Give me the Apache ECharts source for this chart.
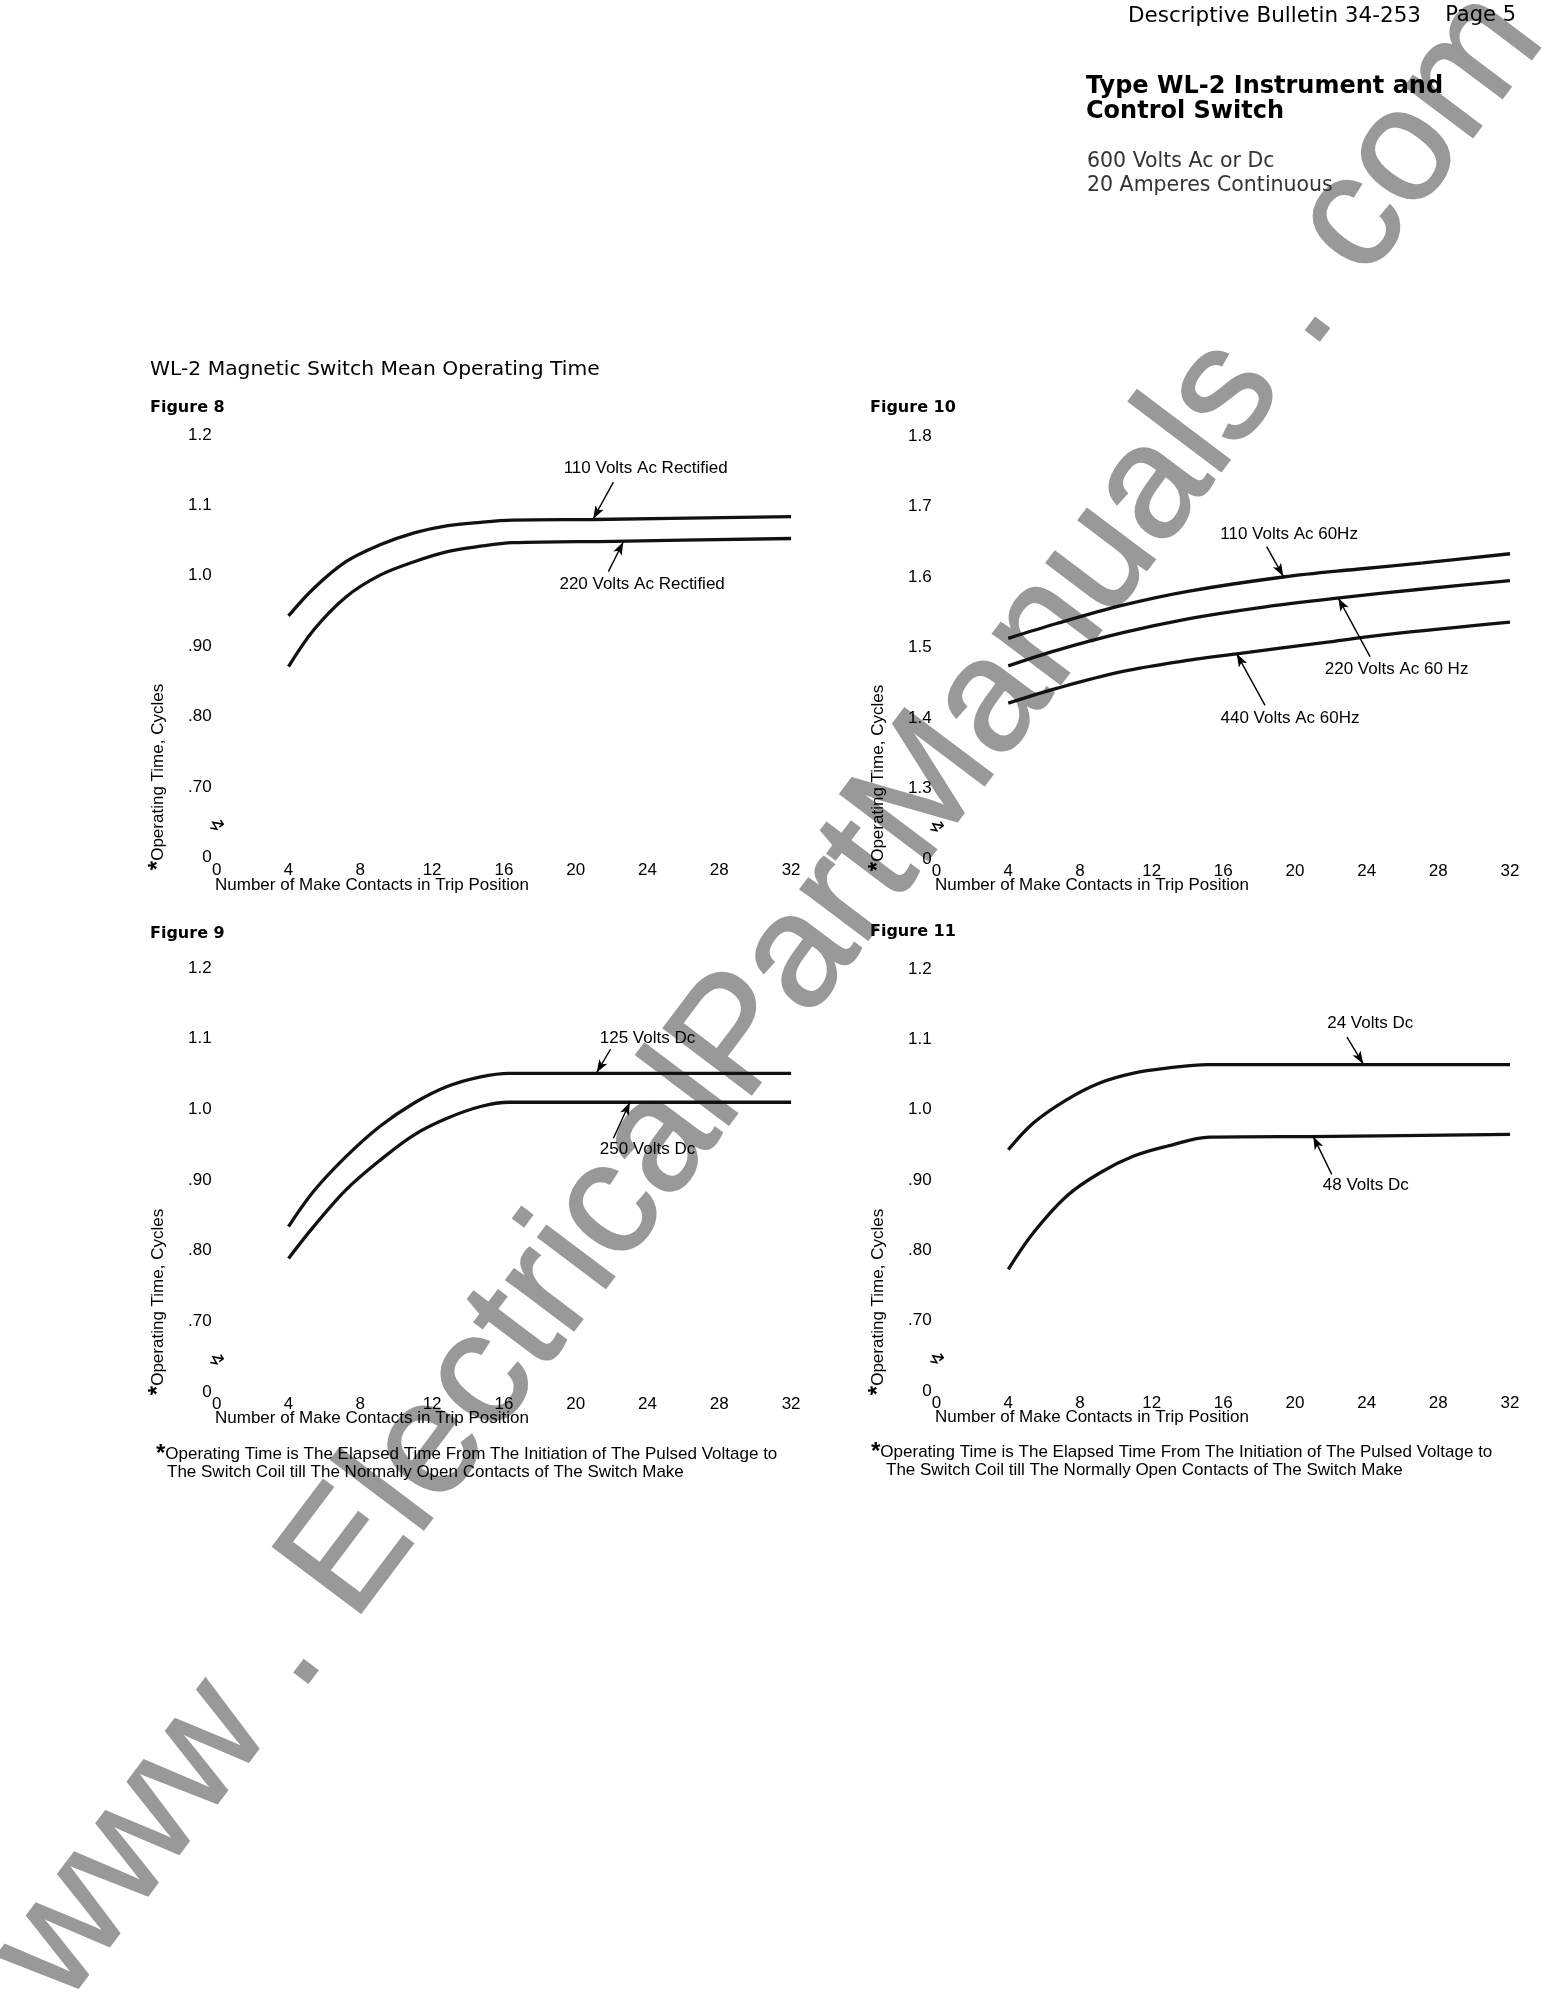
<!DOCTYPE html>
<html><head><meta charset="utf-8">
<script src="https://cdn.jsdelivr.net/npm/echarts@6/dist/echarts.min.js"></script>
<style>html,body{margin:0;padding:0;background:#fff}#c{width:1543px;height:1995px}</style>
</head><body><div id="c"></div>
<script>
// ---------- data ----------
const xTicks = [0, 4, 8, 12, 16, 20, 24, 28, 32];
const yTicksLow = ['0', '.70', '.80', '.90', '1.0', '1.1', '1.2'];   // bottom -> top (Fig 8, 9, 11)
const yTicksHigh = ['0', '1.3', '1.4', '1.5', '1.6', '1.7', '1.8'];  // bottom -> top (Fig 10)

// Figure 8
const fig8_110 = [[4,0.943],[5.4,0.982],[7.2,1.020],[9.1,1.044],[11,1.061],[12.8,1.071],[14.7,1.076],[16.5,1.079],[21,1.080],[32,1.084]];
const fig8_220 = [[4,0.871],[5.4,0.923],[7.2,0.970],[9.1,1.001],[11,1.020],[12.8,1.034],[14.7,1.042],[16.5,1.047],[22.1,1.049],[32,1.053]];
// Figure 10
const fig10_110 = [[4,1.513],[6.7,1.534],[10.4,1.560],[14.1,1.580],[19.35,1.600],[23.45,1.611],[27.15,1.620],[32,1.633]];
const fig10_220 = [[4,1.474],[6.7,1.496],[10.4,1.521],[14.1,1.541],[17.85,1.556],[22.35,1.570],[27.15,1.583],[32,1.595]];
const fig10_440 = [[4,1.421],[6.7,1.442],[10.4,1.466],[14.1,1.482],[16.75,1.491],[21.6,1.507],[25.3,1.519],[32,1.536]];
// Figure 9
const fig9_125 = [[4,0.834],[5.4,0.884],[7.2,0.933],[9.1,0.976],[11,1.009],[12.8,1.032],[14.7,1.046],[16.3,1.051],[32,1.051]];
const fig9_250 = [[4,0.789],[5.4,0.834],[7.2,0.886],[9.1,0.928],[11,0.964],[12.8,0.987],[14.7,1.004],[16.3,1.010],[32,1.010]];
// Figure 11
const fig11_24 = [[4,0.943],[5.4,0.981],[7.25,1.014],[9.1,1.038],[11,1.052],[12.85,1.059],[15.1,1.064],[32,1.064]];
const fig11_48 = [[4,0.773],[5.4,0.825],[7.25,0.877],[9.1,0.910],[11,0.934],[12.85,0.948],[15.25,0.961],[22.1,0.962],[32,0.965]];

// curve annotations (data units): label centre, arrow tail, arrow tip
const notes8 = [
  {text:'110 Volts Ac Rectified', pos:[23.9,1.152], from:[22.1,1.133], to:[20.98,1.081]},
  {text:'220 Volts Ac Rectified', pos:[23.7,0.988], from:[21.82,1.006], to:[22.65,1.048]}];
const notes10 = [
  {text:'110 Volts Ac 60Hz', pos:[19.67,1.661], from:[18.42,1.643], to:[19.35,1.601]},
  {text:'220 Volts Ac 60 Hz', pos:[25.67,1.469], from:[24.19,1.487], to:[22.42,1.570]},
  {text:'440 Volts Ac 60Hz', pos:[19.72,1.400], from:[18.33,1.418], to:[16.75,1.491]}];
const notes9 = [
  {text:'125 Volts Dc', pos:[24.0,1.100], from:[21.94,1.085], to:[21.17,1.052]},
  {text:'250 Volts Dc', pos:[24.0,0.943], from:[22.1,0.959], to:[23.02,1.010]}];
const notes11 = [
  {text:'24 Volts Dc', pos:[24.2,1.123], from:[22.9,1.103], to:[23.81,1.065]},
  {text:'48 Volts Dc', pos:[23.95,0.892], from:[22.05,0.908], to:[21.02,0.962]}];

// ---------- chart ----------
const FONT = '"Liberation Sans", Arial, sans-serif';
const HFONT = '"DejaVu Sans", sans-serif';

const figs = [
  {grid:{left:216.7, top:435, width:574.4, height:422.4}, yMin:0.6, yMax:1.2, yTicks:yTicksLow, curves:[['110 Volts Ac Rectified',fig8_110],['220 Volts Ac Rectified',fig8_220]], notes:notes8},
  {grid:{left:936.6, top:436, width:573.4, height:423}, yMin:1.2, yMax:1.8, yTicks:yTicksHigh, curves:[['110 Volts Ac 60Hz',fig10_110],['220 Volts Ac 60 Hz',fig10_220],['440 Volts Ac 60Hz',fig10_440]], notes:notes10},
  {grid:{left:216.7, top:968, width:574.4, height:424}, yMin:0.6, yMax:1.2, yTicks:yTicksLow, curves:[['125 Volts Dc',fig9_125],['250 Volts Dc',fig9_250]], notes:notes9},
  {grid:{left:936.6, top:969, width:573.4, height:422}, yMin:0.6, yMax:1.2, yTicks:yTicksLow, curves:[['24 Volts Dc',fig11_24],['48 Volts Dc',fig11_48]], notes:notes11}
];

const grids = [], xAxes = [], yAxes = [], series = [];
figs.forEach((f, i) => {
  grids.push(Object.assign({containLabel:false}, f.grid));
  xAxes.push({type:'value', gridIndex:i, min:0, max:32, interval:4,
    axisLine:{show:false}, axisTick:{show:false}, splitLine:{show:false},
    axisLabel:{fontSize:17, color:'#000', margin:4, fontFamily:FONT, formatter:(v, k) => String(xTicks[k])}});
  yAxes.push({type:'value', gridIndex:i, min:f.yMin, max:f.yMax, interval:0.1,
    axisLine:{show:false}, axisTick:{show:false}, splitLine:{show:false},
    axisLabel:{fontSize:17, color:'#000', margin:5, fontFamily:FONT, showMinLabel:true, showMaxLabel:true,
      formatter:(v, k) => f.yTicks[k]}});
  f.curves.forEach((c, j) => {
    const s = {type:'line', name:c[0], xAxisIndex:i, yAxisIndex:i, data:c[1],
      smooth:0.35, showSymbol:false, symbol:'none', clip:false,
      lineStyle:{color:'#111', width:3.3}, silent:true, z:3};
    if (j === 0) {
      s.markLine = {silent:true, symbol:['none','arrow'], symbolSize:10, animation:false,
        label:{show:false}, lineStyle:{color:'#000', width:1.4, type:'solid'},
        data:f.notes.map(n => [{coord:n.from, symbol:'none'}, {coord:n.to, symbol:'arrow', symbolSize:[7,13]}])};
      s.markPoint = {silent:true, symbol:'circle', symbolSize:1, itemStyle:{color:'rgba(0,0,0,0)'}, animation:false,
        label:{show:true, position:'inside', color:'#000', fontSize:17, fontFamily:FONT, formatter:p => p.name},
        data:f.notes.map(n => ({name:n.text, coord:n.pos}))
          .concat([{name:'↯', coord:[0.15, f.yMin + 0.046], label:{rotate:90, fontSize:19, fontFamily:'"DejaVu Sans", sans-serif'}}])};
    }
    series.push(s);
  });
});

function txt(x, y, text, font, opts) {
  opts = opts || {};
  const st = Object.assign({text:text, font:font, fill:opts.fill || '#000',
    align:opts.align || 'left', textAlign:opts.align || 'left',
    verticalAlign:'middle', textVerticalAlign:'middle'}, opts.style || {});
  return {type:'text', x:x, y:y, rotation:opts.rotation || 0, z:opts.z == null ? 10 : opts.z, silent:true, style:st};
}
const richAst = {a:{fontSize:24, fontWeight:'bold', fontFamily:FONT, verticalAlign:'middle'}};
const yTitle = '{a|*}Operating Time, Cycles';
const foot1 = '{a|*}Operating Time is The Elapsed Time From The Initiation of The Pulsed Voltage to';
const foot2 = 'The Switch Coil till The Normally Open Contacts of The Switch Make';
const xTitle = 'Number of Make Contacts in Trip Position';

const graphics = [
  // watermark
  txt(29, 1980, 'www . ElectricalPartManuals . com', '160px "Liberation Sans", Arial, sans-serif',
    {rotation:53 * Math.PI / 180, z:-1, fill:'#999999', style:{stroke:'#999999', lineWidth:2}}),
  // header
  txt(1421, 16, 'Descriptive Bulletin 34-253', '21.5px ' + HFONT, {align:'right'}),
  txt(1516, 16, 'Page 5', '21px ' + HFONT, {align:'right'}),
  txt(1086, 87, 'Type WL-2 Instrument and', 'bold 24px ' + HFONT),
  txt(1086, 112, 'Control Switch', 'bold 24px ' + HFONT),
  txt(1087, 162, '600 Volts Ac or Dc', '20.5px ' + HFONT, {fill:'#333'}),
  txt(1087, 186, '20 Amperes Continuous', '20.5px ' + HFONT, {fill:'#333'}),
  txt(150, 370, 'WL-2 Magnetic Switch Mean Operating Time', '20.3px ' + HFONT),
  txt(150, 408, 'Figure 8', 'bold 16px ' + HFONT),
  txt(870, 408, 'Figure 10', 'bold 16px ' + HFONT),
  txt(150, 934, 'Figure 9', 'bold 16px ' + HFONT),
  txt(870, 932, 'Figure 11', 'bold 16px ' + HFONT),
  // x-axis titles
  txt(215, 885, xTitle, '17px ' + FONT),
  txt(935, 885, xTitle, '17px ' + FONT),
  txt(215, 1418, xTitle, '17px ' + FONT),
  txt(935, 1417, xTitle, '17px ' + FONT),
  // y-axis titles
  txt(158, 777, yTitle, '17px ' + FONT, {align:'center', rotation:Math.PI / 2, style:{rich:richAst}}),
  txt(878, 778, yTitle, '17px ' + FONT, {align:'center', rotation:Math.PI / 2, style:{rich:richAst}}),
  txt(158, 1302, yTitle, '17px ' + FONT, {align:'center', rotation:Math.PI / 2, style:{rich:richAst}}),
  txt(878, 1302, yTitle, '17px ' + FONT, {align:'center', rotation:Math.PI / 2, style:{rich:richAst}}),
  // footnotes
  txt(156, 1454, foot1, '17px ' + FONT, {style:{rich:richAst}}),
  txt(167, 1472, foot2, '17px ' + FONT),
  txt(871, 1452, foot1, '17px ' + FONT, {style:{rich:richAst}}),
  txt(886, 1470, foot2, '17px ' + FONT)
];

const chart = echarts.init(document.getElementById('c'), null, {renderer:'canvas'});
chart.setOption({
  animation:false,
  backgroundColor:'#ffffff',
  textStyle:{fontFamily:FONT},
  grid:grids, xAxis:xAxes, yAxis:yAxes, series:series,
  graphic:{elements:graphics}
});
</script></body></html>
